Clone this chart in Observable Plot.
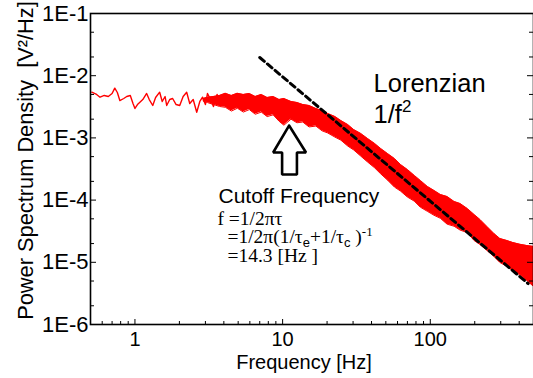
<!DOCTYPE html>
<html><head><meta charset="utf-8">
<script src="https://cdn.jsdelivr.net/npm/d3@7"></script>
<script src="https://cdn.jsdelivr.net/npm/@observablehq/plot@0.6"></script>
<style>
body{margin:0;background:#fff}
#chart svg{display:block}
g[aria-label="x-axis tick label"]{font-size:20px}
g[aria-label="y-axis tick label"]{font-size:22px}
</style></head><body><div id="chart"></div>
<script>
// low-frequency part of the spectrum (single noisy trace)
const lowF=[0.51,0.55,0.58,0.62,0.66,0.70,0.73,0.76,0.79,0.84,0.88,0.93,0.97,1.00,1.04,1.08,1.13,1.20,1.25,1.32,1.38,1.47,1.53,1.60,1.64,1.72,1.80,1.90,2.01,2.12,2.24,2.35,2.48,2.62,2.75,2.87,3.00,3.10,3.25,3.40,3.60,3.80,4.00];
const lowV=[5.43e-3,4.99e-3,4.51e-3,4.81e-3,4.63e-3,5.18e-3,6.3e-3,5.37e-3,3.99e-3,4.30e-3,4.63e-3,4.81e-3,3.57e-3,2.97e-3,3.44e-3,3.75e-3,4.14e-3,5.18e-3,4.14e-3,3.32e-3,4.46e-3,5.43e-3,3.85e-3,4.63e-3,3.32e-3,4.14e-3,4.30e-3,3.44e-3,3.32e-3,4.63e-3,5.43e-3,3.57e-3,4.14e-3,2.59e-3,3.85e-3,4.51e-3,3.44e-3,5.18e-3,4.14e-3,3.20e-3,4.99e-3,3.71e-3,4.46e-3];
// dense part of the spectrum (envelope of the noisy band)
const bandF=[2.9,3.1,3.40,3.74,4.10,4.50,4.94,5.42,5.95,6.53,7.17,7.86,8.63,9.47,10.2,11.4,12.5,13.7,15.1,16.8,18.5,20.2,22.6,24.8,27.6,30.3,33.8,37.6,42.0,46.1,51.3,57.2,62.8,70.0,78.0,85.6,95.5,106,117,130,145,159,178,198,217,242,270,296,330,362,404,450,500];
const bandHi=[4.3e-3,4.5e-3,4.63e-3,4.81e-3,5.2e-3,4.81e-3,5.2e-3,4.99e-3,5.18e-3,4.63e-3,4.99e-3,4.46e-3,4.63e-3,4.14e-3,4.30e-3,3.85e-3,3.71e-3,3.44e-3,3.32e-3,2.97e-3,2.76e-3,2.47e-3,2.21e-3,1.90e-3,1.64e-3,1.36e-3,1.18e-3,9.78e-4,8.13e-4,6.76e-4,5.61e-4,4.66e-4,3.74e-4,3.10e-4,2.49e-4,2.07e-4,1.66e-4,1.43e-4,1.23e-4,1.14e-4,9.50e-5,8.82e-5,7.33e-5,5.87e-5,4.88e-5,3.76e-5,2.90e-5,2.41e-5,2.24e-5,2.08e-5,1.95e-5,1.86e-5,1.80e-5];
const bandLo=[3.9e-3,3.7e-3,3.44e-3,3.2e-3,3.1e-3,2.7e-3,3.0e-3,2.6e-3,2.85e-3,2.4e-3,2.6e-3,2.2e-3,2.35e-3,1.85e-3,1.6e-3,2.0e-3,1.75e-3,1.8e-3,1.5e-3,1.55e-3,1.3e-3,1.2e-3,1.03e-3,9.2e-4,7.4e-4,6.4e-4,5.1e-4,4.1e-4,3.3e-4,2.65e-4,2.1e-4,1.62e-4,1.4e-4,1.12e-4,9.6e-5,7.7e-5,6.6e-5,5.7e-5,5.1e-5,4.1e-5,3.8e-5,3.3e-5,3.0e-5,2.24e-5,1.93e-5,1.55e-5,1.24e-5,9.93e-6,8.6e-6,7.3e-6,6.3e-6,5.1e-6,4.1e-6];
// 1/f^2 guide line
const slopeF=[7,460];
const slopeV=[0.0196,4.54e-6];
// hollow arrow pointing at the cutoff
const arrowF=[11.06,14.4,12.5,12.5,9.92,9.92,8.63,11.06];
const arrowV=[1.58e-3,5.83e-4,5.83e-4,2.58e-4,2.58e-4,5.83e-4,5.83e-4,1.58e-3];
// axes
const xMajor=[1,10,100];
const xLabels=["1","10","100"];
const xMinor=[0.6,0.7,0.8,0.9,2,3,4,5,6,7,8,9,20,30,40,50,60,70,80,90,200,300,400,500];
const yMajor=[1e-6,1e-5,1e-4,1e-3,1e-2,1e-1];
const yLabels=["1E-6","1E-5","1E-4","1E-3","1E-2","1E-1"];
const yMinor=[2e-6,5e-6,2e-5,5e-5,2e-4,5e-4,2e-3,5e-3,2e-2,5e-2];
const yTitle="Power Spectrum Density  [V²/Hz]";
const xTitle="Frequency [Hz]";
// annotation texts and anchors
const noteText=["Lorenzian","1/f2","Cutoff Frequency","f =1/2πτ","=1/2π(1/τe+1/τc )-1","=14.3 [Hz ]"];
const noteF=[41.3,41.3,3.68,3.62,4.23,4.23];
const noteV=[5.37e-3,1.72e-3,8.82e-5,4.05e-5,2.01e-5,9.93e-6];

const low=lowF.map((f,i)=>({f,v:lowV[i]}));
const band=bandF.map((f,i)=>({f,hi:bandHi[i],lo:bandLo[i]}));
const slope=slopeF.map((f,i)=>({f,v:slopeV[i]}));
const arrow=arrowF.map((f,i)=>({f,v:arrowV[i]}));
const notes=noteText.map((t,i)=>({t,f:noteF[i],v:noteV[i]}));

const W=533,H=378,mL=90,mR=0,mT=13,mB=54;
const pw=W-mL-mR, ph=H-mT-mB;
const sans="Liberation Sans, Arial, Helvetica, sans-serif";
const serif="Liberation Serif, Times New Roman, serif";

const chart=Plot.plot({
  width:W,height:H,marginLeft:mL,marginRight:mR,marginTop:mT,marginBottom:mB,
  x:{type:"log",domain:[0.5,500]},
  y:{type:"log",domain:[1e-6,1e-1]},
  style:{fontFamily:sans,color:"black",background:"white",overflow:"visible"},
  marks:[
    Plot.areaY(band,{x:"f",y1:"lo",y2:"hi",fill:"#ff0000"}),
    Plot.line(band,{x:"f",y:"hi",stroke:"#ff0000",strokeWidth:1}),
    Plot.line(band,{x:"f",y:"lo",stroke:"#ff0000",strokeWidth:1}),
    Plot.line(low,{x:"f",y:"v",stroke:"#ff0000",strokeWidth:1.4}),
    Plot.line(slope,{x:"f",y:"v",stroke:"black",strokeWidth:3,strokeDasharray:"6,4"}),
    Plot.line(arrow,{x:"f",y:"v",stroke:"black",strokeWidth:2.6,strokeLinejoin:"miter"}),
    Plot.tickY(yMinor,{y:d=>d,insetRight:pw-4,stroke:"black"}),
    Plot.tickY(yMinor,{y:d=>d,insetLeft:pw-4,stroke:"black"}),
    Plot.tickY(yMajor,{y:d=>d,insetRight:pw-6,stroke:"black"}),
    Plot.tickY(yMajor,{y:d=>d,insetLeft:pw-6,stroke:"black"}),
    Plot.tickX(xMinor,{x:d=>d,insetTop:ph-3,stroke:"black"}),
    Plot.tickX(xMajor,{x:d=>d,insetTop:ph-5,stroke:"black"}),
    Plot.frame({stroke:"black",strokeWidth:1.6}),
    Plot.axisX({ticks:xMajor,tickFormat:d=>xLabels[xMajor.indexOf(d)],tickSize:0,tickPadding:7,label:null}),
    Plot.axisY({ticks:yMajor,tickFormat:d=>yLabels[yMajor.indexOf(d)],tickSize:0,tickPadding:2,label:null}),
    Plot.text([xTitle],{frameAnchor:"bottom",dy:44,dx:-8,lineAnchor:"bottom",fontSize:20}),
    Plot.text([yTitle],{x:[0.5],y:[4.33e-4],dx:-64,rotate:-90,textAnchor:"middle",lineAnchor:"middle",fontSize:21.8}),
    Plot.text(notes.slice(0,2),{x:"f",y:"v",text:"t",textAnchor:"start",lineAnchor:"bottom",fontSize:25.5}),
    Plot.text(notes.slice(2,3),{x:"f",y:"v",text:"t",textAnchor:"start",lineAnchor:"bottom",fontSize:21}),
    Plot.text(notes.slice(3,6),{x:"f",y:"v",text:"t",textAnchor:"start",lineAnchor:"bottom",fontSize:19.5,fontFamily:serif})
  ]
});
document.getElementById("chart").appendChild(chart);
// superscripts / subscripts inside the annotation texts
const svgNS="http://www.w3.org/2000/svg";
function rich(str,parts){
  d3.select(chart).selectAll("text").filter(function(){return this.textContent===str;}).each(function(){
    const el=this; while(el.firstChild) el.removeChild(el.firstChild);
    for(const p of parts){
      const ts=document.createElementNS(svgNS,"tspan");
      ts.textContent=p.t;
      if(p.dy) ts.setAttribute("dy",p.dy);
      if(p.fs) ts.setAttribute("font-size",p.fs);
      if(p.ff) ts.setAttribute("font-family",p.ff);
      el.appendChild(ts);
    }
  });
}
rich(noteText[1],[{t:"1/f"},{t:"2",dy:-11,fs:17}]);
rich(noteText[4],[{t:"=1/2π(1/τ"},{t:"e",dy:4,fs:13,ff:sans},{t:"+1/τ",dy:-4},{t:"c",dy:4,fs:13,ff:sans},{t:" )",dy:-4},{t:"-1",dy:-7,fs:13}]);
</script></body></html>
